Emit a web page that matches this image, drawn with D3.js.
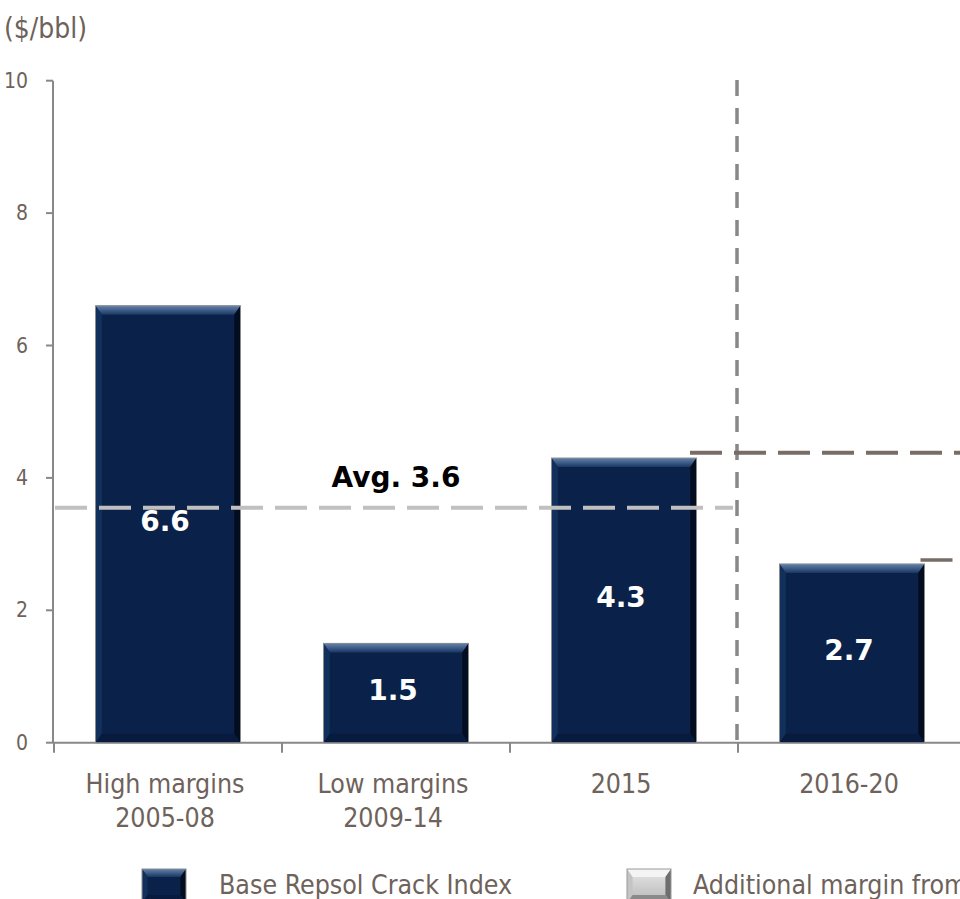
<!DOCTYPE html>
<html>
<head>
<meta charset="utf-8">
<script src="https://cdn.jsdelivr.net/npm/d3@7"></script>
<style>
  html, body { margin: 0; padding: 0; background: #fff; overflow: hidden; }
  svg { display: block; }
  .lbl { font-family: "DejaVu Sans Condensed", "DejaVu Sans", sans-serif; font-stretch: condensed; fill: #6e625b; }
  .big { font-family: "DejaVu Sans", sans-serif; font-weight: bold; }
</style>
</head>
<body>
<div id="chart"></div>
<script>

// data
const categories = ['High margins\n2005-08', 'Low margins\n2009-14', '2015', '2016-20'];
const values = [6.6, 1.5, 4.3, 2.7];
const yTicks = [0, 2, 4, 6, 8, 10];
const avgValue = 3.55;
const avgLabel = 'Avg. 3.6';
const outlookLevel = 4.38;     // dark dashed line right of the divider
const connectorLevel = 2.76;   // short line off the 2016-20 bar
const legendItems = ['Base Repsol Crack Index', 'Additional margin from'];

const width = 960, height = 899;

const svg = d3.select('#chart').append('svg')
    .attr('width', width)
    .attr('height', height);

// scales
const yScale = d3.scaleLinear()
    .domain([0, 10])
    .range([742.7, 80.7]);

const pad = 0.364;
const xScale = d3.scaleBand()
    .domain(categories)
    .range([54, 966])
    .paddingInner(pad)
    .paddingOuter(pad / 2);

const step = xScale.step();
const edge = d => xScale(d) - step * pad / 2;

// unit label
svg.append('text')
    .attr('class', 'lbl')
    .attr('x', 4)
    .attr('y', 38)
    .attr('font-size', 28)
    .text('($/bbl)');

// y axis
svg.append('line')
    .attr('x1', 53).attr('x2', 53)
    .attr('y1', yScale(10)).attr('y2', yScale(0))
    .attr('stroke', '#888').attr('stroke-width', 2);

svg.selectAll('.ytick')
    .data(yTicks)
    .enter().append('line')
    .attr('x1', 46).attr('x2', 53)
    .attr('y1', d => yScale(d)).attr('y2', d => yScale(d))
    .attr('stroke', '#888').attr('stroke-width', 2);

svg.selectAll('.ylab')
    .data(yTicks)
    .enter().append('text')
    .attr('class', 'lbl')
    .attr('x', 28)
    .attr('y', d => yScale(d) + 7)
    .attr('text-anchor', 'end')
    .attr('font-size', 21)
    .text(d => d);

// x axis
svg.append('line')
    .attr('x1', 53).attr('x2', width)
    .attr('y1', yScale(0)).attr('y2', yScale(0))
    .attr('stroke', '#888').attr('stroke-width', 2);

svg.selectAll('.xtick')
    .data(categories)
    .enter().append('line')
    .attr('x1', d => edge(d)).attr('x2', d => edge(d))
    .attr('y1', yScale(0)).attr('y2', yScale(0) + 10)
    .attr('stroke', '#888').attr('stroke-width', 2);

const xlab = svg.selectAll('.xlab')
    .data(categories)
    .enter().append('text')
    .attr('class', 'lbl')
    .attr('font-size', 26.5)
    .attr('text-anchor', 'middle')
    .attr('transform', d => 'translate(' + (xScale(d) + xScale.bandwidth() / 2 - 3) + ',793)');

xlab.selectAll('tspan')
    .data(d => d.split('\n'))
    .enter().append('tspan')
    .attr('x', 0)
    .attr('y', (d, i) => i * 34)
    .text(d => d);

// bevelled box
const defs = svg.append('defs');
const topGrad = defs.append('linearGradient')
    .attr('id', 'navyTop').attr('x1', 0).attr('x2', 0).attr('y1', 0).attr('y2', 1);
topGrad.append('stop').attr('offset', '0%').attr('stop-color', '#6282ac');
topGrad.append('stop').attr('offset', '100%').attr('stop-color', '#1a3762');

const greyGrad = defs.append('linearGradient')
    .attr('id', 'greyFace').attr('x1', 0).attr('x2', 0).attr('y1', 0).attr('y2', 1);
greyGrad.append('stop').attr('offset', '0%').attr('stop-color', '#e6e6e6');
greyGrad.append('stop').attr('offset', '100%').attr('stop-color', '#b8b8b8');

function bevel(g, x, y, w, h, b, c) {
    g.append('rect')
        .attr('x', x).attr('y', y).attr('width', w).attr('height', h)
        .attr('fill', c.face);
    const poly = (pts, fill) => g.append('polygon')
        .attr('points', pts.map(p => p.join(',')).join(' '))
        .attr('fill', fill);
    const s = b * 0.7;
    poly([[x, y], [x + w, y], [x + w - s, y + b], [x + s, y + b]], c.top);
    poly([[x, y], [x + s, y + b], [x + s, y + h - b], [x, y + h]], c.left);
    poly([[x + w, y], [x + w, y + h], [x + w - s, y + h - b], [x + w - s, y + b]], c.right);
    poly([[x, y + h], [x + s, y + h - b], [x + w - s, y + h - b], [x + w, y + h]], c.bottom);
    g.append('rect')
        .attr('x', x).attr('y', y).attr('width', w).attr('height', h)
        .attr('fill', 'none').attr('stroke', c.edge).attr('stroke-width', 1);
}

const navy = { face: '#0a2249', top: 'url(#navyTop)', left: '#12305c', right: '#030d20', bottom: '#081b3e', edge: '#8c8c8c' };
const grey = { face: 'url(#greyFace)', top: '#f4f4f4', left: '#c4c4c4', right: '#6e6e6e', bottom: '#8a8a8a', edge: '#999' };

// bars
const bars = svg.append('g');
categories.forEach((c, i) => {
    const y0 = yScale(values[i]);
    bevel(bars, xScale(c), y0, xScale.bandwidth(), yScale(0) - y0, 9, navy);
});

// average line
svg.append('line')
    .attr('x1', 55).attr('x2', 733)
    .attr('y1', yScale(avgValue)).attr('y2', yScale(avgValue))
    .attr('stroke', '#c0c0c0').attr('stroke-width', 4)
    .attr('stroke-dasharray', '32,12');

svg.append('text')
    .attr('class', 'big')
    .attr('x', xScale(categories[1]) + xScale.bandwidth() / 2)
    .attr('y', yScale(avgValue) - 21)
    .attr('text-anchor', 'middle')
    .attr('font-size', 28)
    .attr('fill', '#000')
    .text(avgLabel);

// value labels
svg.selectAll('.val')
    .data(categories)
    .enter().append('text')
    .attr('class', 'big')
    .attr('x', d => xScale(d) + xScale.bandwidth() / 2 - 3)
    .attr('y', (d, i) => (yScale(values[i]) + yScale(0)) / 2 + 7)
    .attr('text-anchor', 'middle')
    .attr('font-size', 28)
    .attr('fill', '#fff')
    .text((d, i) => values[i].toFixed(1));

// divider between history and outlook
const divX = edge(categories[3]) - 1;
svg.append('line')
    .attr('x1', divX).attr('x2', divX)
    .attr('y1', 80).attr('y2', yScale(0))
    .attr('stroke', '#888').attr('stroke-width', 3.5)
    .attr('stroke-dasharray', '16,12');

// outlook lines
svg.append('line')
    .attr('x1', 690).attr('x2', width)
    .attr('y1', yScale(outlookLevel)).attr('y2', yScale(outlookLevel))
    .attr('stroke', '#786d66').attr('stroke-width', 4)
    .attr('stroke-dasharray', '32,12');

svg.append('line')
    .attr('x1', xScale(categories[3]) + xScale.bandwidth() - 4).attr('x2', width)
    .attr('y1', yScale(connectorLevel)).attr('y2', yScale(connectorLevel))
    .attr('stroke', '#786d66').attr('stroke-width', 3.5)
    .attr('stroke-dasharray', '32,12');

// legend
const swatchX = [142, 627];
const legendTextX = [219, 693];
legendItems.forEach((t, i) => {
    const g = svg.append('g');
    bevel(g, swatchX[i], 869, 44, 34, 8, i === 0 ? navy : grey);
    svg.append('text')
        .attr('class', 'lbl')
        .attr('x', legendTextX[i])
        .attr('y', 894)
        .attr('font-size', 26.5)
        .text(t);
});

</script>
</body>
</html>
